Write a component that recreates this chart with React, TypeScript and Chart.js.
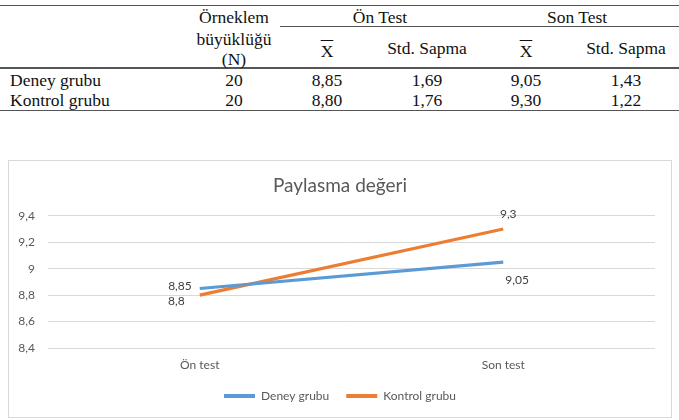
import React, { useEffect, useRef } from 'react';
import { Chart, registerables } from 'chart.js';

Chart.register(...registerables);

// ---- chart data ----
const categories = ['Ön test', 'Son test'];
const seriesNames = ['Deney grubu', 'Kontrol grubu'];
const deneyValues = [8.85, 9.05];
const kontrolValues = [8.8, 9.3];
const yTicks = [8.4, 8.6, 8.8, 9.0, 9.2, 9.4];
const chartTitle = 'Paylasma değeri';

// ---- table data ----
const sampleHeader = ['Örneklem', 'büyüklüğü', '(N)'];
const groupHeaders = ['Ön Test', 'Son Test'];
const subHeaders = ['X', 'Std. Sapma', 'X', 'Std. Sapma'];
const rowLabels = ['Deney grubu', 'Kontrol grubu'];
const sampleSizes = ['20', '20'];
const onTestMeans = ['8,85', '8,80'];
const onTestSD = ['1,69', '1,76'];
const sonTestMeans = ['9,05', '9,30'];
const sonTestSD = ['1,43', '1,22'];

// ---- styles ----
const BLUE = '#5B9BD5';
const ORANGE = '#ED7D31';
const TEXT = '#595959';
const GRID = '#d9d9d9';
const FONT = 'Lato, "Noto Sans", sans-serif';
const SERIF = '"Liberation Serif", "Times New Roman", serif';

// label placement per dataset / point: [dx, dy, align]
const labelOffsets: [number, number, CanvasTextAlign][][] = [
  [[-8, -2, 'right'], [2, 18, 'left']],
  [[-15, 6, 'right'], [5, -15, 'center']],
];

const fmt = (v: number) => String(Math.round(v * 100) / 100).replace('.', ',');

const dataLabelPlugin = {
  id: 'dataLabels',
  afterDatasetsDraw(chart: any) {
    const ctx = chart.ctx;
    ctx.save();
    ctx.font = `12px ${FONT}`;
    ctx.fillStyle = '#404040';
    ctx.textBaseline = 'middle';
    chart.data.datasets.forEach((ds: any, di: number) => {
      const meta = chart.getDatasetMeta(di);
      meta.data.forEach((pt: any, i: number) => {
        const [dx, dy, align] = labelOffsets[di][i];
        ctx.textAlign = align;
        ctx.fillText(fmt(ds.data[i]), pt.x + dx, pt.y + dy);
      });
    });
    ctx.restore();
  },
};

function ChartBox() {
  const ref = useRef<HTMLCanvasElement>(null);
  useEffect(() => {
    if (!ref.current) return;
    const chart = new Chart(ref.current, {
      type: 'line',
      data: {
        labels: categories,
        datasets: [
          { label: seriesNames[0], data: deneyValues, borderColor: BLUE, backgroundColor: BLUE, borderWidth: 3.2, pointRadius: 0, tension: 0 },
          { label: seriesNames[1], data: kontrolValues, borderColor: ORANGE, backgroundColor: ORANGE, borderWidth: 3.2, pointRadius: 0, tension: 0 },
        ],
      },
      options: {
        responsive: false,
        animation: false,
        devicePixelRatio: 1,
        layout: { padding: { left: 0, right: 0, top: 0, bottom: 5 } },
        plugins: {
          title: {
            display: true,
            text: chartTitle,
            color: TEXT,
            font: { family: FONT, size: 19, weight: 'normal' },
            padding: { top: 13, bottom: 19 },
          },
          legend: {
            display: true,
            position: 'bottom',
            labels: {
              color: TEXT,
              font: { family: FONT, size: 12 },
              boxWidth: 31,
              boxHeight: 4,
              padding: 17,
              generateLabels: (c: any) =>
                Chart.defaults.plugins.legend.labels.generateLabels(c).map((it: any) => ({
                  ...it,
                  lineWidth: 0,
                  fillStyle: it.strokeStyle,
                })),
            },
          },
          tooltip: { enabled: false },
        },
        scales: {
          x: {
            offset: true,
            grid: { display: false, drawTicks: false },
            border: { display: false },
            ticks: { color: TEXT, font: { family: FONT, size: 12 }, padding: 10 },
            afterFit: (scale: any) => {
              scale.height = 25;
            },
          },
          y: {
            min: 8.4,
            max: 9.4,
            afterBuildTicks: (scale: any) => {
              scale.ticks = yTicks.map((v) => ({ value: v }));
            },
            afterFit: (scale: any) => {
              scale.width = 39;
            },
            grid: { color: GRID, lineWidth: 1, drawTicks: false },
            border: { display: false },
            ticks: {
              color: TEXT,
              font: { family: FONT, size: 12 },
              padding: 13,
              callback: (v: any) => fmt(Number(v)),
            },
          },
          yRight: {
            position: 'right',
            display: true,
            grid: { display: false, drawTicks: false },
            border: { display: false },
            ticks: { display: false },
            afterFit: (scale: any) => {
              scale.width = 16;
            },
          },
        },
      },
      plugins: [dataLabelPlugin],
    });
    return () => chart.destroy();
  }, []);
  return (
    <div
      style={{
        position: 'absolute',
        left: 8,
        top: 160,
        width: 664,
        height: 258,
        boxSizing: 'border-box',
        border: `1px solid ${GRID}`,
        background: '#fff',
      }}
    >
      <canvas ref={ref} width={662} height={256} style={{ display: 'block', width: 662, height: 256 }} />
    </div>
  );
}

// text positioned by center x and baseline y
function T({ x, base, children, align = 'center', overline = false }: any) {
  const style: React.CSSProperties = {
    position: 'absolute',
    top: base - 16,
    height: 20,
    lineHeight: '20px',
    fontFamily: SERIF,
    fontSize: 17.5,
    color: '#111',
    whiteSpace: 'nowrap',
    textDecoration: overline ? 'overline' : 'none',
  };
  style.left = x;
  if (align === 'center') style.transform = 'translateX(-50%)';
  return <div style={style}>{children}</div>;
}

function HLine({ x1, x2, y, h = 1.5, color = '#555' }: any) {
  return <div style={{ position: 'absolute', left: x1, top: y, width: x2 - x1, height: h, background: color }} />;
}

function Table() {
  const colN = 234;
  const valueCols = [327, 427, 526, 626];
  const groupCenters = [380, 577];
  const rowBases = [86, 106];
  const cols = [onTestMeans, onTestSD, sonTestMeans, sonTestSD];
  return (
    <>
      <HLine x1={0} x2={679} y={4.5} />
      <HLine x1={280} x2={679} y={25.5} h={1.2} />
      <HLine x1={0} x2={679} y={67} />
      <HLine x1={0} x2={679} y={109.5} />
      {sampleHeader.map((t, i) => (
        <T key={'sh' + i} x={colN} base={[23, 45, 65][i]}>{t}</T>
      ))}
      {groupHeaders.map((t, i) => (
        <T key={'gh' + i} x={groupCenters[i]} base={23}>{t}</T>
      ))}
      {subHeaders.map((t, i) => (
        <T key={'sub' + i} x={valueCols[i]} base={i % 2 === 0 ? 57 : 54} overline={i % 2 === 0}>{t}</T>
      ))}
      {rowLabels.map((t, r) => (
        <React.Fragment key={'r' + r}>
          <T x={10} base={rowBases[r]} align="left">{t}</T>
          <T x={colN} base={rowBases[r]}>{sampleSizes[r]}</T>
          {cols.map((c, ci) => (
            <T key={ci} x={valueCols[ci]} base={rowBases[r]}>{c[r]}</T>
          ))}
        </React.Fragment>
      ))}
    </>
  );
}

export default function App() {
  return (
    <div style={{ position: 'absolute', left: 0, top: 0, width: 679, height: 420, background: '#fff', overflow: 'hidden' }}>
      <Table />
      <ChartBox />
    </div>
  );
}
